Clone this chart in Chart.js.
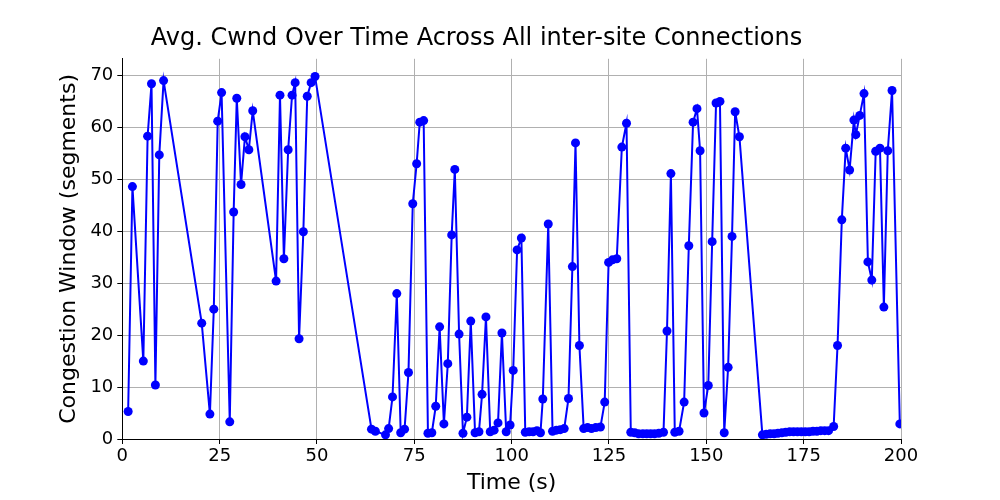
<!DOCTYPE html>
<html>
<head>
<meta charset="utf-8">
<script src="https://cdn.jsdelivr.net/npm/chart.js@4"></script>
<style>
  body { margin: 0; background: #fff; }
  #wrap { width: 1000px; height: 500px; }
</style>
</head>
<body>
<div id="wrap"><canvas id="cwnd-chart"></canvas></div>
<script>
const times = [1.5, 2.6, 5.4, 6.5, 7.5, 8.5, 9.5, 10.6,
  20.4, 22.5, 23.5, 24.5, 25.5, 27.6, 28.6, 29.4, 30.5, 31.5, 32.5, 33.5,
  39.5, 40.5, 41.5, 42.6, 43.6, 44.4, 45.4, 46.5, 47.5, 48.5, 49.5,
  64, 65, 67.6, 68.4, 69.4, 70.5, 71.5, 72.5, 73.5, 74.6, 75.6, 76.4, 77.4, 78.5, 79.5,
  80.5, 81.5, 82.6, 83.6, 84.6, 85.4, 86.5, 87.5, 88.5, 89.5, 90.6, 91.6, 92.4, 93.4,
  94.5, 95.5, 96.5, 97.5, 98.6, 99.6, 100.4, 101.4, 102.5, 103.5, 104.5, 105.5, 106.5, 107.4,
  108, 109.4, 110.5, 111.5, 112.5, 113.5, 114.6, 115.6, 116.4, 117.4, 118.5, 119.5, 120.5, 121.6, 122.8,
  123.9, 124.9, 125.9, 127, 128.3, 129.5, 130.6, 131.6, 132.6, 133.7, 134.7, 135.7, 136.7, 137.8, 139,
  139.9, 140.9, 141.9, 143, 144.3, 145.5, 146.6, 147.6, 148.4, 149.4, 150.5, 151.5, 152.5, 153.5,
  154.6, 155.6, 156.6, 157.4, 158.5,
  164.4, 165.4, 166.4, 167.4, 168.4, 169.4, 170.4, 171.4, 172.4, 173.4, 174.4, 175.4, 176.4, 177.4,
  178.4, 179.4, 180.4, 181.4, 182.7, 183.7, 184.8, 185.8, 186.8, 187.9, 188.4, 189.4, 190.5, 191.5,
  192.5, 193.5, 194.6, 195.6, 196.6, 197.7, 199.7];
const cwnd = [5.3, 48.6, 15, 58.3, 68.4, 10.4, 54.7, 69,
  22.3, 4.8, 25, 61.2, 66.7, 3.3, 43.7, 65.6, 49, 58.2, 55.7, 63.2,
  30.4, 66.2, 34.7, 55.7, 66.2, 68.6, 19.3, 39.9, 66, 68.6, 69.8,
  1.9, 1.5, 0.8, 2, 8.1, 28, 1.2, 1.9, 12.8, 45.3, 53, 61, 61.3, 1.1, 1.2,
  6.3, 21.6, 2.9, 14.5, 39.3, 51.9, 20.2, 1.1, 4.2, 22.7, 1.2, 1.4, 8.6, 23.5,
  1.4, 1.7, 3.1, 20.4, 1.4, 2.7, 13.2, 36.4, 38.7, 1.3, 1.4, 1.4, 1.6, 1.2,
  7.7, 41.4, 1.5, 1.7, 1.8, 2, 7.8, 33.2, 57, 18, 2, 2.2, 2, 2.2, 2.3,
  7.1, 34, 34.5, 34.7, 56.2, 60.8, 1.3, 1.2, 1, 1, 1, 1, 1, 1.1, 1.3,
  20.8, 51.1, 1.3, 1.5, 7.1, 37.2, 61, 63.6, 55.5, 5, 10.3, 38, 64.7, 65,
  1.2, 13.8, 39, 63, 58.2,
  0.8, 0.9, 1, 1, 1.1, 1.2, 1.3, 1.4, 1.4, 1.4, 1.4, 1.4, 1.4, 1.5,
  1.5, 1.6, 1.6, 1.6, 2.4, 18, 42.2, 56, 51.8, 61.4, 58.6, 62.3, 66.5, 34.1,
  30.6, 55.4, 56, 25.4, 55.5, 67.1, 2.9];
const xTicks = [0, 25, 50, 75, 100, 125, 150, 175, 200];
const yTicks = [0, 10, 20, 30, 40, 50, 60, 70];

const points = times.map((t, i) => ({ x: t, y: cwnd[i] }));
const tickFont = { family: "DejaVu Sans", size: 18 };
const titleFont = { family: "DejaVu Sans", size: 22 };

new Chart(document.getElementById("cwnd-chart"), {
  type: "line",
  data: {
    datasets: [{
      data: points,
      borderColor: "#0000ff",
      backgroundColor: "#0000ff",
      borderWidth: 2,
      pointRadius: 4.5,
      pointBackgroundColor: "#0000ff",
      pointBorderWidth: 0,
      tension: 0,
    }],
  },
  options: {
    responsive: true,
    maintainAspectRatio: false,
    animation: false,
    layout: { padding: { left: 52, right: 99, top: 0, bottom: 0 } },
    plugins: {
      legend: { display: false },
      tooltip: { enabled: false },
      title: {
        display: true,
        text: "Avg. Cwnd Over Time Across All inter-site Connections",
        color: "#000",
        font: { family: "DejaVu Sans", size: 24, weight: "normal" },
        padding: { top: 24, bottom: 6 },
      },
    },
    scales: {
      x: {
        type: "linear",
        min: 0,
        max: 200,
        afterBuildTicks: (axis) => { axis.ticks = xTicks.map(v => ({ value: v })); },
        ticks: { color: "#000", font: tickFont, padding: 2 },
        grid: { color: "#b0b0b0", tickColor: "#000", tickLength: 5 },
        border: { color: "#000" },
        title: { display: true, text: "Time (s)", color: "#000", font: titleFont, padding: { top: 0 } },
      },
      y: {
        min: 0,
        max: 73.2,
        afterBuildTicks: (axis) => { axis.ticks = yTicks.map(v => ({ value: v })); },
        ticks: { color: "#000", font: tickFont, padding: 4 },
        grid: { color: "#b0b0b0", tickColor: "#000", tickLength: 5 },
        border: { color: "#000" },
        title: { display: true, text: "Congestion Window (segments)", color: "#000", font: titleFont, padding: { bottom: 4 } },
      },
    },
  },
});
</script>
</body>
</html>
